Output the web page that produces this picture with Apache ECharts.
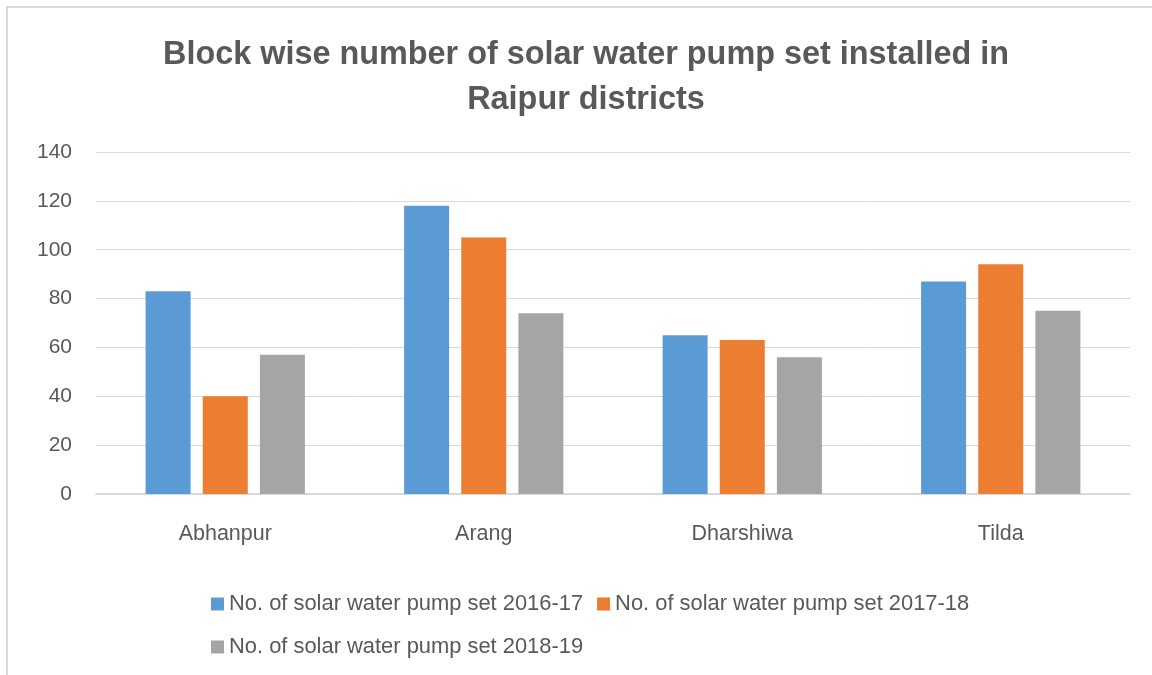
<!DOCTYPE html>
<html>
<head>
<meta charset="utf-8">
<script src="https://cdn.jsdelivr.net/npm/echarts@6/dist/echarts.min.js"></script>
<style>
html,body{margin:0;padding:0;background:#fff;}
#chart{width:1152px;height:675px;}
</style>
</head>
<body>
<div id="chart"></div>
<script>
const categories = ['Abhanpur', 'Arang', 'Dharshiwa', 'Tilda'];
const seriesNames = ['No. of solar water pump set 2016-17', 'No. of solar water pump set 2017-18', 'No. of solar water pump set 2018-19'];
const values2016 = [83, 118, 65, 87];
const values2017 = [40, 105, 63, 94];
const values2018 = [57, 74, 56, 75];
const yTicks = { min: 0, max: 140, interval: 20 };

const colors = ['#5B9BD5', '#ED7D31', '#A5A5A5'];
const font = 'Liberation Sans';
const chart = echarts.init(document.getElementById('chart'));
const allValues = [values2016, values2017, values2018];
chart.setOption({
  animation: false,
  title: {
    text: 'Block wise number of solar water pump set installed in\nRaipur districts',
    left: 581, top: 28, textAlign: 'center',
    textStyle: { fontFamily: font, fontWeight: 'bold', fontSize: 32.4, color: '#595959', lineHeight: 45 }
  },
  graphic: [{
    type: 'rect', shape: { x: 7, y: 7, width: 1200, height: 700 },
    style: { fill: 'none', stroke: '#d9d9d9', lineWidth: 2 }, silent: true
  }],
  legend: [{
    data: [seriesNames[0], seriesNames[1]],
    left: 206, top: 588, itemWidth: 13, itemHeight: 13, itemGap: 14,
    icon: 'rect',
    textStyle: { fontFamily: font, fontSize: 21.9, color: '#595959' }
  }, {
    data: [seriesNames[2]],
    left: 206, top: 631, itemWidth: 13, itemHeight: 13,
    icon: 'rect',
    textStyle: { fontFamily: font, fontSize: 21.9, color: '#595959' }
  }],
  grid: { left: 96, right: 22, top: 152, bottom: 181, containLabel: false },
  xAxis: {
    type: 'category', data: categories,
    axisLine: { lineStyle: { color: '#d9d9d9', width: 2 } },
    axisTick: { show: false },
    axisLabel: { fontFamily: font, fontSize: 21.5, color: '#595959', margin: 29 }
  },
  yAxis: {
    type: 'value', min: yTicks.min, max: yTicks.max, interval: yTicks.interval,
    axisLine: { show: false }, axisTick: { show: false },
    splitLine: { lineStyle: { color: '#d9d9d9', width: 1 } },
    axisLabel: { fontFamily: font, fontSize: 21, color: '#595959', margin: 24 }
  },
  series: seriesNames.map((n, i) => ({
    name: n, type: 'bar', data: allValues[i],
    barWidth: 45, barGap: '27%',
    itemStyle: { color: colors[i] }
  }))
});
</script>
</body>
</html>
